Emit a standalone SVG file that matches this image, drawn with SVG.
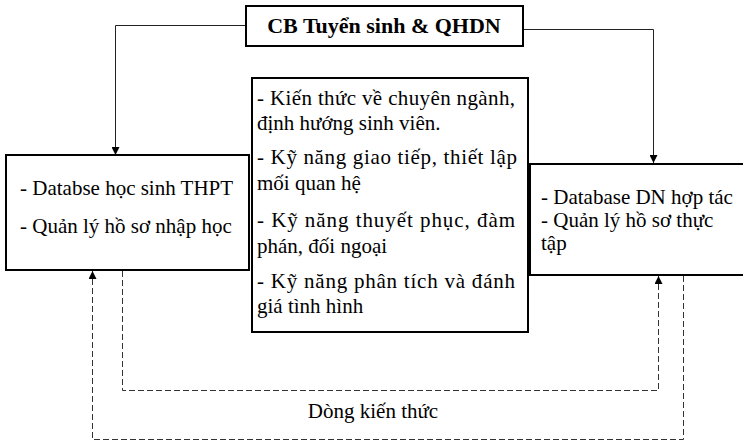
<svg xmlns="http://www.w3.org/2000/svg" width="743" height="442" viewBox="0 0 743 442">
<style>
.box{fill:#fff;stroke:#000;stroke-width:2}
.t{font-family:"Liberation Serif","Times New Roman",serif;font-size:21px;fill:#000}
.title{font-family:"Liberation Serif","Times New Roman",serif;font-size:22px;font-weight:bold;fill:#000}
.solid{fill:none;stroke:#222;stroke-width:1}
.dash{fill:none;stroke:#333;stroke-width:1;stroke-dasharray:6 3}
</style>
<defs>
<marker id="arr" viewBox="0 0 10 10" refX="10" refY="5" markerWidth="8" markerHeight="8" markerUnits="userSpaceOnUse" orient="auto">
<path d="M0,0 L10,5 L0,10 Z" fill="#000"/>
</marker>
</defs>
<rect width="743" height="442" fill="#fff"/>
<g id="connectors">
<path class="solid" d="M245,25.5 H115.5 V155" marker-end="url(#arr)"/>
<path class="solid" d="M523,29.5 H653.5 V163" marker-end="url(#arr)"/>
<path class="dash" d="M122.5,271 V390.5 H658.5 V276" marker-end="url(#arr)"/>
<path class="dash" d="M683.5,276 V439.5 H92.5 V271" marker-end="url(#arr)"/>
<text class="t" x="373" y="418" text-anchor="middle">Dòng kiến thức</text>
</g>
<g id="top">
<rect class="box" x="246" y="6" width="277" height="40"/>
<text class="title" x="384" y="33" text-anchor="middle">CB Tuyển sinh &amp; QHDN</text>
</g>
<g id="left">
<rect class="box" x="6" y="155" width="243" height="115"/>
<text class="t" x="20" y="195">- Databse học sinh THPT</text>
<text class="t" x="20" y="233">- Quản lý hồ sơ nhập học</text>
</g>
<g id="right">
<rect class="box" x="530" y="164" width="220" height="111"/>
<text class="t" x="541" y="204">- Database DN hợp tác</text>
<text class="t" x="541" y="227">- Quản lý hồ sơ thực</text>
<text class="t" x="541" y="250">tập</text>
</g>
<g id="middle">
<rect class="box" x="252" y="78" width="276" height="254"/>
<text class="t" x="257" y="105" textLength="258" lengthAdjust="spacing">- Kiến thức về chuyên ngành,</text>
<text class="t" x="257" y="130">định hướng sinh viên.</text>
<text class="t" x="257" y="164" textLength="260" lengthAdjust="spacing">- Kỹ năng giao tiếp, thiết lập</text>
<text class="t" x="257" y="190">mối quan hệ</text>
<text class="t" x="257" y="227" textLength="258" lengthAdjust="spacing">- Kỹ năng thuyết phục, đàm</text>
<text class="t" x="257" y="253">phán, đối ngoại</text>
<text class="t" x="257" y="288" textLength="258" lengthAdjust="spacing">- Kỹ năng phân tích và đánh</text>
<text class="t" x="257" y="313">giá tình hình</text>
</g>
</svg>
